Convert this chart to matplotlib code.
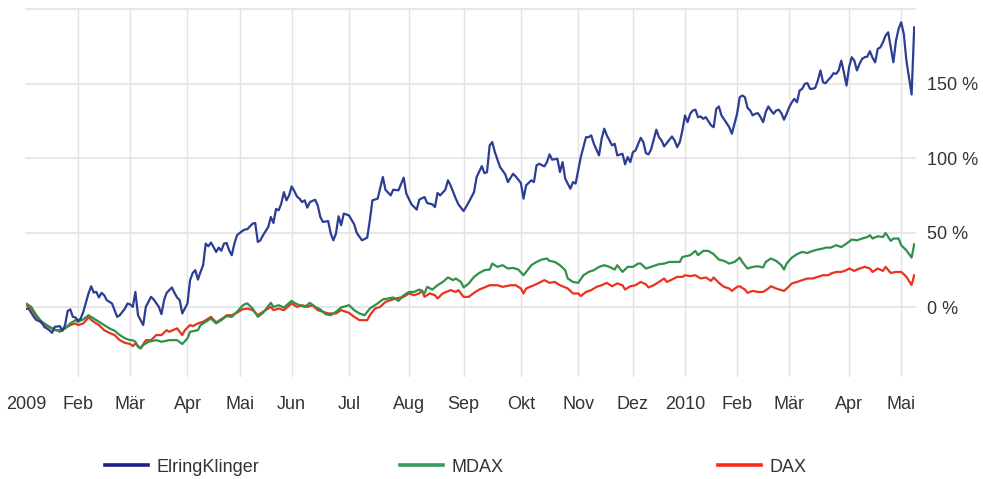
import matplotlib
matplotlib.use("Agg")
import matplotlib.pyplot as plt
from matplotlib.lines import Line2D
import pandas as pd

# ---------------- data (x = trading-day number, 0 = 2 Jan 2009) ----------------
holidays = ["2009-04-10", "2009-04-13", "2009-05-01", "2009-12-24", "2009-12-25",
            "2009-12-31", "2010-01-01", "2010-04-02", "2010-04-05"]
month_labels = ["2009", "Feb", "Mär", "Apr", "Mai", "Jun", "Jul", "Aug", "Sep",
                "Okt", "Nov", "Dez", "2010", "Feb", "Mär", "Apr", "Mai"]
y_ticks = [0, 50, 100, 150]
y_tick_labels = ["0 %", "50 %", "100 %", "150 %"]
series_names = ["ElringKlinger", "MDAX", "DAX"]

elring_days = [1, 2, 4, 5, 7, 8, 10, 11, 12, 14, 15, 16, 17, 18, 19, 20, 21, 22, 23, 25,
               26, 27, 28, 29, 30, 31, 32, 34, 35, 36, 37, 39, 40, 41, 42, 43, 44, 46, 47, 49,
               50, 52, 53, 54, 55, 57, 58, 59, 60, 61, 62, 63, 64, 65, 66, 67, 68, 69, 70, 71,
               72, 73, 74, 75, 76, 77, 78, 79, 80, 81, 82, 84, 85, 86, 88, 89, 90, 91, 92, 94,
               95, 96, 97, 98, 99, 100, 101, 102, 103, 104, 105, 106, 107, 108, 109, 110, 112, 113, 114, 115,
               117, 118, 119, 120, 121, 122, 123, 125, 127, 128, 130, 132, 133, 134, 136, 138, 139, 141, 142, 144,
               146, 147, 149, 151, 152, 154, 155, 157, 158, 159, 160, 162, 163, 164, 166, 167, 169, 171, 173, 174,
               176, 177, 178, 179, 180, 181, 183, 185, 186, 188, 189, 191, 192, 193, 195, 196, 197, 198, 200, 201,
               202, 203, 205, 206, 207, 208, 210, 211, 212, 213, 214, 216, 217, 218, 219, 221, 222, 223, 224, 226,
               227, 228, 230, 231, 232, 233, 234, 235, 237, 238, 239, 240, 241, 243, 244, 245, 246, 247, 249, 250,
               251, 252, 253, 254, 255, 256, 257, 258, 259, 260, 261, 262, 263, 264, 265, 266, 267, 268, 270, 271,
               272, 274, 275, 276, 277, 278, 279, 280, 281, 282, 283, 284, 285, 286, 287, 288, 289, 290, 291, 292,
               293, 294, 295, 296, 297, 298, 299, 300, 301, 302, 303, 304, 305, 306, 307, 308, 309, 310, 311, 312,
               313, 314, 315, 316, 317, 318, 319, 320, 321, 322, 323, 324, 325, 326, 327, 328, 329, 330, 331, 332,
               333, 334, 335, 336, 337, 338, 339, 341, 342]
elring_vals = [-1.0, -0.7, -6.3, -8.5, -9.6, -13.0, -15.2, -17.0, -13.0, -12.5, -15.6, -11.8, -2.3, -1.3, -6.3, -6.7, -9.0, -7.4, -2.9, 9.4,
               14.2, 10.0, 10.4, 6.7, 9.8, 8.2, 4.9, 2.7, -1.8, -6.3, -5.2, -0.7, 2.7, 2.0, 0.4, 10.4, -5.2, -11.8, 0.4, 7.1,
               5.4, 0.4, -4.5, 4.9, 9.8, 13.4, 9.8, 6.7, 4.9, -4.0, -0.7, 2.7, 18.3, 23.1, 25.0, 18.7, 23.8, 28.3, 42.8, 41.0,
               43.5, 40.5, 37.2, 40.1, 38.0, 42.8, 43.2, 38.3, 35.0, 42.8, 48.4, 51.2, 52.2, 52.5, 56.2, 56.6, 43.9, 45.0, 48.4, 53.9,
               60.6, 56.6, 66.0, 65.1, 69.6, 77.3, 71.8, 75.1, 81.1, 78.0, 74.4, 72.9, 70.6, 71.8, 66.9, 70.6, 72.2, 68.4, 60.6, 57.3,
               57.9, 49.5, 45.0, 49.5, 61.1, 55.1, 62.9, 61.7, 55.7, 49.9, 45.0, 46.8, 58.4, 71.8, 72.9, 87.4, 78.9, 75.1, 78.9, 78.5,
               87.0, 76.3, 69.1, 65.6, 72.3, 74.0, 70.0, 69.1, 67.3, 76.7, 75.1, 78.9, 85.2, 81.8, 72.9, 69.1, 64.6, 70.6, 77.3, 87.4,
               94.7, 90.0, 90.7, 108.6, 110.8, 104.1, 94.1, 89.2, 84.0, 89.6, 87.8, 83.4, 72.9, 81.8, 85.2, 84.0, 95.2, 96.3, 94.5, 97.4,
               102.6, 99.0, 99.7, 90.7, 97.4, 86.3, 79.6, 84.0, 83.0, 91.9, 100.8, 114.1, 114.1, 115.3, 109.7, 101.9, 113.1, 119.8, 115.3, 108.6,
               109.7, 101.9, 103.0, 95.9, 100.8, 97.4, 104.1, 105.2, 113.7, 110.8, 103.4, 102.6, 106.0, 119.1, 114.1, 111.9, 107.9, 110.1, 114.6, 111.9,
               107.4, 110.8, 118.6, 128.7, 124.2, 129.8, 132.0, 132.5, 127.5, 128.0, 126.4, 127.5, 124.8, 122.0, 120.8, 133.1, 134.7, 128.7, 123.5, 120.8,
               116.4, 129.8, 140.9, 142.0, 140.9, 133.8, 132.0, 128.7, 129.8, 130.2, 127.5, 124.2, 130.9, 134.7, 132.0, 129.8, 132.0, 132.5, 130.2, 125.8,
               129.8, 134.2, 137.5, 139.8, 137.5, 145.4, 146.5, 149.9, 150.3, 146.5, 146.5, 147.2, 152.1, 158.8, 150.9, 150.3, 152.5, 154.3, 157.0, 156.5,
               158.8, 165.4, 157.6, 148.7, 161.0, 167.7, 165.4, 158.8, 163.2, 166.6, 167.7, 168.1, 171.7, 167.3, 164.3, 173.3, 174.3, 177.7, 182.2, 184.4,
               174.3, 164.3, 178.8, 186.7, 191.1, 183.3, 165.4, 142.7, 187.7]

mdax_days = [1, 3, 5, 7, 9, 11, 12, 14, 16, 18, 20, 21, 23, 25, 27, 29, 31, 33, 35, 37,
             39, 41, 42, 43, 44, 45, 46, 47, 48, 51, 53, 56, 59, 61, 63, 64, 67, 68, 70, 72,
             74, 76, 78, 80, 82, 84, 85, 86, 88, 90, 92, 95, 96, 98, 100, 103, 104, 106, 108, 110,
             112, 114, 116, 118, 120, 122, 125, 127, 129, 131, 133, 136, 138, 140, 142, 144, 146, 148, 150, 152,
             154, 155, 157, 159, 161, 163, 165, 166, 168, 169, 171, 173, 175, 177, 179, 180, 182, 184, 186, 188,
             190, 192, 193, 195, 197, 199, 201, 202, 204, 206, 208, 209, 211, 213, 215, 217, 219, 221, 223, 225,
             227, 228, 230, 232, 234, 236, 237, 239, 241, 244, 246, 248, 250, 252, 253, 256, 258, 259, 261, 263,
             265, 267, 269, 271, 273, 275, 276, 278, 280, 282, 284, 285, 287, 289, 291, 292, 293, 295, 297, 299,
             301, 303, 305, 307, 308, 310, 312, 314, 316, 318, 320, 322, 324, 325, 326, 328, 330, 331, 333, 334,
             336, 337, 339, 341, 342]
mdax_vals = [2.7, 0.4, -5.2, -9.6, -11.8, -14.0, -14.7, -16.3, -14.0, -10.7, -8.5, -9.6, -8.0, -5.2, -7.4, -9.6, -11.8, -14.0, -15.6, -18.5,
             -20.7, -21.9, -22.0, -23.0, -26.3, -27.4, -25.2, -24.1, -23.0, -21.9, -23.0, -21.9, -21.9, -24.5, -20.7, -16.3, -15.2, -11.8, -9.6, -7.4,
             -10.7, -8.5, -5.8, -6.3, -2.9, 1.0, 2.2, 2.7, -0.7, -6.3, -3.6, 3.1, 0.4, 1.5, 0.0, 4.4, 3.1, 1.5, 0.4, 3.1,
             0.4, -1.3, -4.5, -5.2, -2.9, 0.0, 1.5, -1.8, -4.0, -5.2, -0.7, 2.7, 5.4, 6.0, 6.7, 4.4, 8.2, 10.4, 10.4, 12.0,
             9.4, 13.8, 12.0, 14.9, 17.1, 20.1, 18.3, 19.4, 17.1, 13.4, 16.1, 20.5, 23.1, 25.0, 25.4, 29.4, 27.2, 28.3, 26.1, 26.5,
             25.4, 21.6, 23.8, 28.3, 30.5, 32.1, 32.8, 31.2, 30.5, 28.3, 25.0, 19.4, 17.1, 16.5, 21.6, 23.8, 25.0, 27.2, 28.3, 27.2,
             25.4, 28.3, 23.8, 27.2, 27.2, 29.4, 29.4, 26.1, 27.2, 29.0, 29.4, 30.5, 30.5, 30.5, 33.8, 35.0, 37.9, 35.0, 37.9, 37.9,
             35.7, 32.1, 31.2, 29.4, 30.5, 33.4, 30.5, 26.1, 27.2, 27.6, 26.8, 30.5, 32.8, 31.2, 28.3, 25.4, 29.4, 33.4, 35.7, 37.2,
             36.5, 37.9, 38.8, 39.5, 40.1, 40.1, 41.7, 40.5, 42.8, 45.5, 45.0, 46.2, 47.2, 48.4, 46.2, 47.7, 47.2, 49.9, 44.6, 46.2,
             46.2, 41.7, 38.3, 33.4, 42.4]

dax_days = [1, 3, 5, 7, 9, 11, 12, 14, 16, 18, 20, 21, 23, 25, 27, 29, 31, 33, 35, 37,
            39, 41, 42, 43, 44, 45, 47, 49, 51, 53, 55, 56, 59, 61, 62, 64, 65, 67, 69, 70,
            71, 72, 74, 77, 78, 80, 82, 84, 86, 88, 90, 92, 95, 96, 98, 100, 103, 105, 107, 109,
            111, 113, 115, 117, 120, 122, 125, 127, 129, 132, 133, 135, 137, 139, 141, 143, 146, 148, 150, 152,
            153, 154, 156, 158, 159, 161, 164, 166, 167, 169, 171, 173, 175, 177, 179, 182, 184, 187, 189, 191,
            192, 193, 196, 198, 200, 202, 204, 206, 209, 211, 213, 214, 216, 218, 220, 222, 224, 226, 228, 230,
            231, 233, 235, 237, 239, 240, 242, 244, 246, 247, 249, 251, 253, 254, 256, 258, 260, 262, 264, 265,
            267, 269, 271, 272, 274, 275, 277, 278, 280, 282, 284, 286, 287, 289, 291, 292, 294, 295, 297, 299,
            301, 303, 305, 307, 309, 310, 312, 314, 316, 317, 319, 321, 323, 325, 326, 328, 330, 331, 333, 335,
            337, 338, 339, 341, 342]
dax_vals = [1.8, -0.7, -6.3, -10.7, -12.5, -14.0, -15.2, -15.2, -14.0, -11.8, -10.7, -11.8, -10.7, -6.7, -9.6, -11.8, -15.2, -17.0, -18.5, -21.9,
            -23.7, -24.5, -25.9, -24.1, -25.9, -27.4, -22.0, -21.9, -18.5, -18.5, -15.2, -16.3, -14.0, -18.5, -15.2, -11.8, -12.5, -10.7, -9.6, -8.5,
            -7.4, -6.3, -10.0, -6.7, -5.2, -5.2, -3.5, -1.3, -0.7, -1.8, -5.2, -2.9, 0.4, -1.8, -0.7, -1.8, 2.7, 0.4, 1.5, 0.4,
            1.5, -1.8, -2.9, -4.0, -4.0, -1.8, -3.6, -6.3, -8.5, -8.5, -5.2, -0.7, 0.4, 3.7, 4.9, 6.0, 7.1, 9.4, 8.2, 9.4,
            11.6, 7.1, 9.4, 8.2, 6.0, 9.4, 11.6, 10.4, 11.6, 7.1, 7.1, 9.8, 12.0, 13.4, 14.9, 14.9, 13.8, 14.9, 14.9, 12.7,
            9.4, 12.7, 14.9, 16.5, 18.3, 16.5, 17.1, 14.9, 12.7, 9.4, 9.4, 7.6, 10.4, 11.6, 13.8, 14.9, 16.5, 14.2, 16.1, 14.9,
            12.0, 14.2, 14.9, 17.1, 15.5, 13.4, 14.9, 17.1, 19.4, 17.1, 18.7, 20.5, 20.5, 21.6, 21.0, 21.6, 19.4, 20.1, 17.8, 20.1,
            16.5, 13.8, 12.7, 11.1, 13.8, 14.2, 12.0, 9.8, 11.1, 10.4, 10.4, 12.7, 14.2, 12.7, 11.6, 11.1, 14.2, 16.1, 17.1, 18.3,
            19.4, 19.4, 20.5, 21.6, 21.6, 22.7, 23.8, 23.8, 25.0, 26.1, 24.5, 26.1, 27.2, 26.1, 23.8, 26.1, 24.5, 27.2, 23.1, 23.8,
            23.8, 22.3, 20.5, 15.0, 21.6]

# ---------------- trading calendar -> month tick positions ----------------
days = pd.bdate_range("2009-01-02", "2010-05-10")
days = days[~days.isin(pd.to_datetime(holidays))]
months = days.to_period("M")
tick_pos = [1] + [i for i in range(1, len(days)) if months[i] != months[i - 1]]

# ---------------- style ----------------
plt.rcParams["font.family"] = ["Liberation Sans", "DejaVu Sans"]
text_color = "#333333"
grid_color = "#e3e3e3"
line_colors = ["#2b3d94", "#2f9148", "#e8341f"]
legend_colors = ["#1f1f8c", "#3a9a60", "#f42a1e"]

fig = plt.figure(figsize=(9.83, 4.79), dpi=100)
ax = fig.add_axes([26 / 983, 1 - 377 / 479, (915 - 26) / 983, (377 - 9) / 479])

ax.set_xlim(1, 342.3)
ax.set_ylim(-46.6, 200)

for p in tick_pos[1:]:
    ax.axvline(p, color=grid_color, lw=1.0, zorder=0)
for yv in y_ticks + [200]:
    ax.axhline(yv, color=grid_color, lw=1.2, zorder=0, clip_on=False)

ax.plot(dax_days, dax_vals, color=line_colors[2], lw=1.6, zorder=3)
ax.plot(mdax_days, mdax_vals, color=line_colors[1], lw=1.6, zorder=4)
ax.plot(elring_days, elring_vals, color=line_colors[0], lw=1.6, zorder=5)

for s in ax.spines.values():
    s.set_visible(False)

ax.set_xticks(tick_pos)
ax.set_xticklabels(month_labels)
ax.yaxis.tick_right()
ax.set_yticks(y_ticks)
ax.set_yticklabels(y_tick_labels, ha="left")
ax.tick_params(axis="x", length=0, pad=14, labelsize=13, labelcolor=text_color)
ax.tick_params(axis="y", length=0, pad=8.5, labelsize=13, labelcolor=text_color)

for name, col, xpos in zip(series_names, legend_colors, [105 / 983, 400 / 983, 718 / 983]):
    h = Line2D([], [], color=col, lw=2.6)
    fig.legend([h], [name], loc="center left", bbox_to_anchor=(xpos, 1 - 467 / 479),
               frameon=False, borderpad=0, borderaxespad=0, handlelength=2.4,
               handletextpad=0.45, fontsize=13, labelcolor=text_color)

fig.savefig("out.png", dpi=100)
